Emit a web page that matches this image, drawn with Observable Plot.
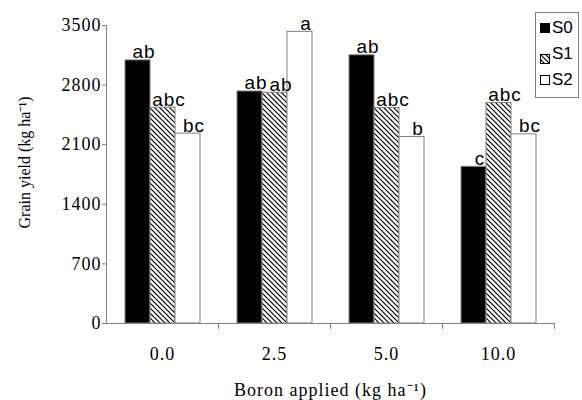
<!DOCTYPE html>
<html><head><meta charset="utf-8">
<script src="https://cdn.jsdelivr.net/npm/d3@7"></script>
<script src="https://cdn.jsdelivr.net/npm/@observablehq/plot@0.6"></script>
<style>
body{margin:0;background:#fff;}
#wrap{position:relative;width:582px;height:400px;}
#legend{position:absolute;left:535px;top:12px;width:44px;height:86px;border:1px solid #808080;box-sizing:border-box;background:#fff;font-family:"Liberation Sans",Arial,sans-serif;font-size:17px;color:#000;}
#legend .row{position:absolute;left:4px;height:18px;display:flex;align-items:center;}
#legend .sw{width:10px;height:10px;box-sizing:border-box;margin-right:2px;}
</style></head><body>
<svg width="0" height="0" style="position:absolute"><defs>
<pattern id="hatch" patternUnits="userSpaceOnUse" width="5" height="5">
<rect width="5" height="5" fill="white"/>
<path d="M-1,-1 L6,6 M-1,4 L1,6 M4,-1 L6,1" stroke="black" stroke-width="1.2"/>
</pattern></defs></svg>
<div id="wrap"></div>
<script>
const boron = ["0.0", "2.5", "5.0", "10.0"];
const series = ["S0", "S1", "S2"];
const s0 = [3090, 2725, 3150, 1840];
const s1 = [2535, 2710, 2530, 2590];
const s2 = [2230, 3425, 2190, 2222];
const l0 = ["ab", "ab", "ab", "c"];
const l1 = ["abc", "ab", "abc", "abc"];
const l2 = ["bc", "a", "b", "bc"];
const yTicks = [0, 700, 1400, 2100, 2800, 3500];
const fills = ["black", "url(#hatch)", "white"];

const vals = [s0, s1, s2];
const labs = [l0, l1, l2];
const rows = boron.flatMap((b, i) => series.map((s, j) => ({boron: b, series: s, value: vals[j][i], label: labs[j][i]})));

const chart = Plot.plot({
  width: 582, height: 400,
  marginLeft: 104, marginRight: 27, marginTop: 25, marginBottom: 77,
  style: "font-family:'Liberation Serif','Times New Roman',serif;font-size:17px;color:#000;background:#fff;letter-spacing:1px;overflow:visible;",
  fx: {domain: boron, padding: 0, axis: null},
  x: {domain: series, paddingInner: 0, paddingOuter: 0.72, axis: null},
  y: {domain: [0, 3500], axis: null},
  color: {type: "ordinal", domain: series, range: fills},
  marks: [
    Plot.barY(rows, {fx: "boron", x: "series", y: "value", fill: "series", stroke: "#808080", strokeWidth: 1}),
    Plot.text(rows, {fx: "boron", x: "series", y: "value", text: "label", lineAnchor: "bottom", dy: -2, dx: 6, fontFamily: "'Liberation Sans',Arial,sans-serif", fontSize: 19, style: "letter-spacing:1.5px"}),
    Plot.ruleY([0], {stroke: "#808080"}),
    Plot.axisFx({anchor: "bottom", tickSize: 0, tickPadding: 24, fontSize: 18, label: "Boron applied (kg ha⁻¹)", labelAnchor: "center", labelOffset: 72, labelArrow: "none"}),
    Plot.axisY({ticks: yTicks, tickSize: 4, tickPadding: 1, stroke: "#808080", fill: "black", fontSize: 18, tickFormat: d => String(d), label: "Grain yield (kg ha⁻¹)", labelAnchor: "center", labelOffset: 88, labelArrow: "none"})
  ]
});
const wrap = document.getElementById("wrap");
wrap.appendChild(chart);

// y title: smaller, unstretched, slightly higher as in the reference
d3.select(chart).selectAll('g[aria-label="y-axis label"]').each(function () {
  const el = d3.select(this);
  el.attr("font-size", 16).style("letter-spacing", "0px");
  el.selectAll("text").attr("font-size", 16).style("letter-spacing", "0px");
  const t = el.attr("transform") || "";
  el.attr("transform", "translate(0,-12) " + t);
});

// axis line and boundary ticks below the x axis, positioned with Plot's own scales
const fxDesc = chart.scale("fx");
const fxS = Plot.scale({fx: fxDesc});
const yS = Plot.scale({y: chart.scale("y")});
const bw = fxDesc.bandwidth;
const g = d3.select(chart).append("g").attr("stroke", "#808080").attr("stroke-width", 1);
const y0 = yS.apply(0);
const xl = Math.round(fxS.apply(boron[0])) + 0.5;
g.append("line").attr("x1", xl).attr("x2", xl).attr("y1", y0).attr("y2", yS.apply(3500));
boron.forEach(b => {
  const xr = Math.round(fxS.apply(b) + bw) + 0.5;
  g.append("line").attr("x1", xr).attr("x2", xr).attr("y1", y0).attr("y2", y0 + 6);
});

const legend = document.createElement("div");
legend.id = "legend";
series.forEach((s, j) => {
  const r = document.createElement("div");
  r.className = "row";
  r.style.top = (6 + j * 26) + "px";
  const sw = document.createElement("div");
  sw.className = "sw";
  if (j === 1) {
    sw.innerHTML = '<svg width="10" height="10"><rect x="0.5" y="0.5" width="9" height="9" fill="url(#hatch)" stroke="#000"/></svg>';
  } else {
    sw.style.background = fills[j];
    sw.style.border = "1px solid #000";
  }
  r.appendChild(sw);
  const t = document.createElement("span");
  t.textContent = s;
  r.appendChild(t);
  legend.appendChild(r);
});
wrap.appendChild(legend);
</script>
</body></html>
